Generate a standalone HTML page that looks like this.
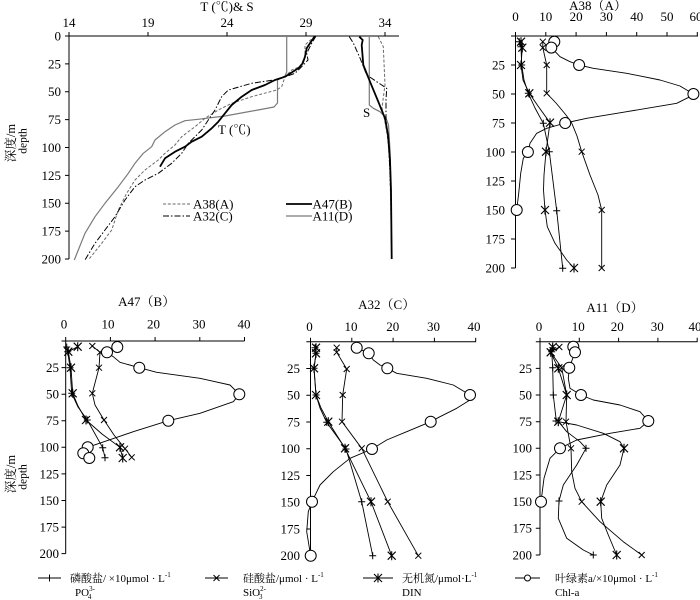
<!DOCTYPE html>
<html><head><meta charset="utf-8"><style>
html,body{margin:0;padding:0;background:#fff;}
svg{display:block;}
text{font-family:"Liberation Serif","Noto Serif CJK SC",serif;fill:#000;}
</style></head><body>
<svg width="700" height="600" viewBox="0 0 700 600" xmlns="http://www.w3.org/2000/svg">
<defs>
<g id="pl"><path d="M-3.5 0H3.5M0 -3.5V3.5" stroke="#000" stroke-width="1" fill="none"/></g>
<g id="xm"><path d="M-3 -3L3 3M-3 3L3 -3" stroke="#000" stroke-width="1" fill="none"/></g>
<g id="as"><path d="M-4 -4L4 4M-4 4L4 -4M0 -4.5V4.5" stroke="#000" stroke-width="1.1" fill="none"/></g>
<g id="ci"><circle r="5.5" fill="#fff" stroke="#000" stroke-width="1"/></g>
</defs>
<rect width="700" height="600" fill="#fff"/>

<!-- ============ TOP-LEFT T & S ============ -->
<g font-size="13">
<text x="227" y="11" text-anchor="middle">T (℃)&amp; S</text>
<g stroke="#000" stroke-width="1" fill="none">
<path d="M69 36H399M69 36V259"/>
<path d="M69 36V32M148 36V32M227 36V32M306 36V32M385 36V32"/>
<path d="M65 36H69M65 63.9H69M65 91.75H69M65 119.6H69M65 147.5H69M65 175.4H69M65 203.25H69M65 231.1H69M65 259H69"/>
</g>
<g text-anchor="middle">
<text x="69" y="27">14</text><text x="148" y="27">19</text><text x="227" y="27">24</text><text x="306" y="27">29</text><text x="385" y="27">34</text>
</g>
<g text-anchor="end">
<text x="61" y="40.5">0</text><text x="61" y="68.4">25</text><text x="61" y="96.2">50</text><text x="61" y="124.1">75</text><text x="61" y="152">100</text><text x="61" y="179.9">125</text><text x="61" y="207.7">150</text><text x="61" y="235.6">175</text><text x="61" y="263.5">200</text>
</g>
<text transform="translate(15,143) rotate(-90)" text-anchor="middle" font-size="12.5">深度/m</text>
<text transform="translate(26.5,141) rotate(-90)" text-anchor="middle" font-size="11.5">depth</text>

<g fill="none" stroke-linejoin="round">
<polyline stroke="#7a7a7a" stroke-width="1.2" points="286.7,36 286.7,72 285,76 277.5,80 277.5,103 274,107 258,110 225,116 198,119.3 185,120.7 175,125 165,131.7 155,140 151.7,146.7 143.3,153.3 135,163.3 128.3,173.3 118.3,186.7 105,203.3 95,216.7 85,233.3 78.3,250 74.3,260"/>
<polyline stroke="#6a6a6a" stroke-width="1" stroke-dasharray="3,1.8" points="315,36 305,45 305,56.7 300,66.7 291.7,70 285,76.7 281.7,86.7 276.7,90 251.7,96.7 231.7,103.3 218.3,110 205,118.3 195,126.7 181.7,136.7 175,145 165,153.3 158.3,160 145,170 135,180 126.7,193.3 118.3,210 111.7,230 101.7,243.3 88.3,260"/>
<polyline stroke="#000" stroke-width="1" stroke-dasharray="6,2,1.5,2" points="316,36 311.7,43.3 306.7,53.3 308,60 301.7,66.7 295,73.3 278.3,79.3 251.7,83.3 228.3,90 221.7,96.7 215,110 208.3,120 201.7,130 195,136.7 188.3,143.3 181.7,153.3 171.7,163.3 158.3,173.3 145,180 135,186.7 125,200 115,216.7 105,230 95,243.3 85,260"/>
<polyline stroke="#000" stroke-width="1.8" points="315,36 310,43.3 306.7,48.3 305,56.7 302.7,63.3 298.3,68.3 285,76.7 275,80 265,85 251.7,90 241.7,96.7 231.7,105 225,113.3 218.3,121.7 211.7,128.3 201.7,136.7 191.7,141.7 185,146.7 175,151.7 165,158.3 160,166.7"/>

<polyline stroke="#7a7a7a" stroke-width="1.2" points="369.3,36 369.3,105 373.3,108.3 380,111.7 386,118 388.5,125 390,150 391,200 391.7,259"/>
<polyline stroke="#6a6a6a" stroke-width="1" stroke-dasharray="3,1.8" points="378.3,36.7 383.3,46.7 385,85 383,100 382,108 385,121.7 388,140 390,170 391.7,259"/>
<polyline stroke="#000" stroke-width="1" stroke-dasharray="6,2,1.5,2" points="349.3,36.7 353.3,43 360,58 366.7,75 376.7,81.7 386.7,88.3 386,100 386,120 389,150 391,200 391.7,259"/>
<polyline stroke="#000" stroke-width="1.8" points="359.3,36.7 362.7,40 361.7,45 363.3,65 370,81.7 378.3,101.7 385,118.3 388,135 390,160 391,190 391.7,259"/>

<line x1="163" y1="204" x2="190" y2="204" stroke="#6a6a6a" stroke-width="1" stroke-dasharray="3,1.8"/>
<line x1="286" y1="204" x2="312" y2="204" stroke="#000" stroke-width="1.8"/>
<line x1="163" y1="216" x2="190" y2="216" stroke="#000" stroke-width="1" stroke-dasharray="6,2,1.5,2"/>
<line x1="286" y1="216" x2="312" y2="216" stroke="#7a7a7a" stroke-width="1.2"/>
</g>
<text x="193" y="208.5">A38(A)</text>
<text x="312.5" y="208.5">A47(B)</text>
<text x="193" y="220.5">A32(C)</text>
<text x="312.5" y="220.5">A11(D)</text>
<text x="218" y="134">T (℃)</text>
<text x="363" y="117">S</text>
</g>

<!-- ============ A38 (A) ============ -->
<g font-size="13">
<text x="598" y="10" text-anchor="middle">A38（A）</text>
<g stroke="#000" stroke-width="1" fill="none">
<path d="M515.5 36H698M515.5 36V268"/>
<path d="M515.5 36V32M545.8 36V32M576.1 36V32M606.4 36V32M636.7 36V32M667 36V32M697.3 36V32"/>
<path d="M511 36H515.5M511 65H515.5M511 94H515.5M511 123H515.5M511 152H515.5M511 181H515.5M511 210H515.5M511 239H515.5M511 268H515.5"/>
</g>
<g text-anchor="middle">
<text x="515.5" y="21">0</text><text x="545.8" y="21">10</text><text x="576.1" y="21">20</text><text x="606.4" y="21">30</text><text x="636.7" y="21">40</text><text x="667" y="21">50</text><text x="696" y="21">60</text>
</g>
<g text-anchor="end">
<text x="505" y="69.5">25</text><text x="505" y="98.5">50</text><text x="505" y="127.5">75</text><text x="505" y="156.5">100</text><text x="505" y="185.5">125</text><text x="505" y="214.5">150</text><text x="505" y="243.5">175</text><text x="505" y="272.5">200</text>
</g>
<g fill="none" stroke="#000" stroke-width="0.9" stroke-linejoin="round">
<polyline points="519.3,41.7 521,46.7 521.7,65 524,80 528.3,93.3 535,108 543.3,123.3 549.3,151.7 556.7,210.7 562.7,268.3"/>
<polyline points="521,41.7 522.3,47.7 521,65 523,80 529.3,93.3 538,106 550,122.7 546,151.7 544,175 543.5,190 545,210 547.3,226.7 555,243.3 566.7,260 574,268"/>
<polyline points="542.8,41.7 542.8,47.7 546.7,65 546.7,93.3 556,103 566,115 571.7,123 577,136 581.7,151.7 590,175 598,195 601.7,210 601.7,268"/>
<polyline points="554.3,41.8 551.3,47.6 560,56.7 570,61.7 579.1,65 593.3,68.3 626.7,73.3 660,80 680,86 693.4,94 690,96.7 676.7,103.3 626.7,111.7 586.7,118.3 565.2,123 546.7,128.3 536.7,133.3 530,143.3 527.9,152 523.3,158.3 520.7,173.3 518.7,193.3 516.7,210"/>
</g>
<use href="#pl" x="519.3" y="41.7"/><use href="#pl" x="521" y="46.7"/><use href="#pl" x="521.7" y="65"/><use href="#pl" x="528.3" y="93.3"/><use href="#pl" x="543.3" y="123.3"/><use href="#pl" x="549.3" y="151.7"/><use href="#pl" x="556.7" y="210.7"/><use href="#pl" x="562.7" y="268.3"/>
<use href="#xm" x="542.8" y="41.7"/><use href="#xm" x="542.8" y="47.7"/><use href="#xm" x="546.7" y="65"/><use href="#xm" x="546.7" y="93.3"/><use href="#xm" x="581.7" y="151.7"/><use href="#xm" x="601.7" y="210"/><use href="#xm" x="601.7" y="268"/>
<use href="#as" x="521" y="41.7"/><use href="#as" x="522.3" y="47.7"/><use href="#as" x="521" y="65"/><use href="#as" x="529.3" y="93.3"/><use href="#as" x="550" y="122.7"/><use href="#as" x="546" y="151.7"/><use href="#as" x="545" y="210"/><use href="#as" x="574" y="268"/>
<use href="#ci" x="554.3" y="41.8"/><use href="#ci" x="551.3" y="47.6"/><use href="#ci" x="579.1" y="65"/><use href="#ci" x="693.4" y="94"/><use href="#ci" x="565.2" y="123"/><use href="#ci" x="527.9" y="152"/><use href="#ci" x="516.7" y="210"/>
</g>

<!-- ============ A47 (B) ============ -->
<g font-size="13">
<text x="146.7" y="306" text-anchor="middle">A47（B）</text>
<g stroke="#000" stroke-width="1" fill="none">
<path d="M65.7 341H244.5M65.7 341V553.6"/>
<path d="M65.7 341V337M110.4 341V337M155.1 341V337M199.8 341V337M244.5 341V337"/>
<path d="M61.5 341H65.7M61.5 367.6H65.7M61.5 394.2H65.7M61.5 420.7H65.7M61.5 447.3H65.7M61.5 473.9H65.7M61.5 500.5H65.7M61.5 527.1H65.7M61.5 553.6H65.7"/>
</g>
<g text-anchor="middle">
<text x="64" y="328.5">0</text><text x="108" y="328.5">10</text><text x="153.5" y="328.5">20</text><text x="199" y="328.5">30</text><text x="244" y="328.5">40</text>
</g>
<g text-anchor="end">
<text x="59" y="372">25</text><text x="59" y="398.6">50</text><text x="59" y="425.1">75</text><text x="59" y="451.7">100</text><text x="59" y="478.3">125</text><text x="59" y="504.9">150</text><text x="59" y="531.5">175</text><text x="59" y="558">200</text>
</g>
<text transform="translate(15,474) rotate(-90)" text-anchor="middle" font-size="12.5">深度/m</text>
<text transform="translate(26.5,477) rotate(-90)" text-anchor="middle" font-size="11.5">depth</text>
<g fill="none" stroke="#000" stroke-width="0.9" stroke-linejoin="round">
<polyline points="66.7,347 67.7,351.7 70,367.7 71.7,393.3 78,407 87.3,420 102.7,447.7 105,457.7"/>
<polyline points="77.7,346.7 68.3,351.7 71,367.7 72.7,393.3 78,406 86,420 102,434 120,447.3 122.7,458"/>
<polyline points="92.3,346 100,352.3 99,367.7 92.3,393.3 95,405 104,420 114,435 125,448.7 131.7,457.3"/>
<polyline points="117.3,347 107,352.3 113.3,356.7 120,362.3 139.3,367.7 156.7,372.3 200,378.3 230,385 239.3,394.3 233.3,401.7 200,413.3 168.3,420.7 133.3,431.7 87.7,447.3 83.3,453.3 89.3,458"/>
</g>
<use href="#pl" x="66.7" y="347"/><use href="#pl" x="67.7" y="351.7"/><use href="#pl" x="70" y="367.7"/><use href="#pl" x="71.7" y="393.3"/><use href="#pl" x="87.3" y="420"/><use href="#pl" x="102.7" y="447.7"/><use href="#pl" x="105" y="457.7"/>
<use href="#xm" x="92.3" y="346"/><use href="#xm" x="100" y="352.3"/><use href="#xm" x="99" y="367.7"/><use href="#xm" x="92.3" y="393.3"/><use href="#xm" x="104" y="420"/><use href="#xm" x="125" y="448.7"/><use href="#xm" x="131.7" y="457.3"/>
<use href="#as" x="77.7" y="346.7"/><use href="#as" x="68.3" y="351.7"/><use href="#as" x="71" y="367.7"/><use href="#as" x="72.7" y="393.3"/><use href="#as" x="86" y="420"/><use href="#as" x="120" y="447.3"/><use href="#as" x="122.7" y="458"/>
<use href="#ci" x="117.3" y="347"/><use href="#ci" x="107" y="352.3"/><use href="#ci" x="139.3" y="367.7"/><use href="#ci" x="239.3" y="394.3"/><use href="#ci" x="168.3" y="420.7"/><use href="#ci" x="87.7" y="447.3"/><use href="#ci" x="83.3" y="453.3"/><use href="#ci" x="89.3" y="458"/>
</g>

<!-- ============ A32 (C) ============ -->
<g font-size="13">
<text x="386.7" y="309" text-anchor="middle">A32（C）</text>
<g stroke="#000" stroke-width="1" fill="none">
<path d="M310.5 341.7H476M310.5 341.7V555.7"/>
<path d="M310.5 341.7V337.7M351.8 341.7V337.7M393.1 341.7V337.7M434.4 341.7V337.7M475.7 341.7V337.7"/>
<path d="M306.3 341.7H310.5M306.3 368.45H310.5M306.3 395.2H310.5M306.3 421.95H310.5M306.3 448.7H310.5M306.3 475.45H310.5M306.3 502.2H310.5M306.3 528.95H310.5M306.3 555.7H310.5"/>
</g>
<g text-anchor="middle">
<text x="309.5" y="331">0</text><text x="351" y="331">10</text><text x="392.7" y="331">20</text><text x="433.5" y="331">30</text><text x="474" y="331">40</text>
</g>
<g text-anchor="end">
<text x="300" y="372.9">25</text><text x="300" y="399.7">50</text><text x="300" y="426.4">75</text><text x="300" y="453.2">100</text><text x="300" y="479.9">125</text><text x="300" y="506.7">150</text><text x="300" y="533.4">175</text><text x="300" y="560.2">200</text>
</g>
<g fill="none" stroke="#000" stroke-width="0.9" stroke-linejoin="round">
<polyline points="315,347.7 316,353.3 314,368.3 316,395 320,408 326.7,422.3 346,449 361.7,501.7 372.7,555.7"/>
<polyline points="316,347.7 316,353.3 314,368.3 316,395 321,408 328.3,421.7 345,448.3 371,501.7 391.7,555.7"/>
<polyline points="336.7,347.7 336.7,352.3 346.7,369 342.7,395 342,421.7 361.7,448.3 387.7,501.7 418.3,555.7"/>
<polyline points="356.7,347.7 368.7,353.3 373.3,360 380,365 387.3,368.3 396.7,373.3 426.7,378.3 453.3,385 470,395 470,400 456.7,408.3 440,416.7 430.7,421.7 406.7,431.7 386.7,440 372,449 350,458.3 333.3,471.7 320,485 312,501.7 308.3,511.7 306.7,531.7 310,551.7 310.7,555.7"/>
</g>
<use href="#pl" x="315" y="347.7"/><use href="#pl" x="316" y="353.3"/><use href="#pl" x="314" y="368.3"/><use href="#pl" x="316" y="395"/><use href="#pl" x="326.7" y="422.3"/><use href="#pl" x="346" y="449"/><use href="#pl" x="361.7" y="501.7"/><use href="#pl" x="372.7" y="555.7"/>
<use href="#xm" x="336.7" y="347.7"/><use href="#xm" x="336.7" y="352.3"/><use href="#xm" x="346.7" y="369"/><use href="#xm" x="342.7" y="395"/><use href="#xm" x="342" y="421.7"/><use href="#xm" x="361.7" y="448.3"/><use href="#xm" x="387.7" y="501.7"/><use href="#xm" x="418.3" y="555.7"/>
<use href="#as" x="316" y="347.7"/><use href="#as" x="316" y="353.3"/><use href="#as" x="314" y="368.3"/><use href="#as" x="316" y="395"/><use href="#as" x="328.3" y="421.7"/><use href="#as" x="345" y="448.3"/><use href="#as" x="371" y="501.7"/><use href="#as" x="391.7" y="555.7"/>
<use href="#ci" x="356.7" y="347.7"/><use href="#ci" x="368.7" y="353.3"/><use href="#ci" x="387.3" y="368.3"/><use href="#ci" x="470" y="395"/><use href="#ci" x="430.7" y="421.7"/><use href="#ci" x="372" y="449"/><use href="#ci" x="312" y="501.7"/><use href="#ci" x="310.7" y="555.7"/>
</g>

<!-- ============ A11 (D) ============ -->
<g font-size="13">
<text x="615" y="312" text-anchor="middle">A11（D）</text>
<g stroke="#000" stroke-width="1" fill="none">
<path d="M540 341.7H697.5M540 341.7V555"/>
<path d="M540 341.7V337.7M579.3 341.7V337.7M618.6 341.7V337.7M657.9 341.7V337.7M697.2 341.7V337.7"/>
<path d="M535.8 341.7H540M535.8 368.4H540M535.8 395H540M535.8 421.7H540M535.8 448.3H540M535.8 475H540M535.8 501.7H540M535.8 528.3H540M535.8 555H540"/>
</g>
<g text-anchor="middle">
<text x="539" y="331">0</text><text x="578.3" y="331">10</text><text x="617.3" y="331">20</text><text x="657.3" y="331">30</text><text x="695" y="331">40</text>
</g>
<g text-anchor="end">
<text x="532" y="372.8">25</text><text x="532" y="399.4">50</text><text x="532" y="426.1">75</text><text x="532" y="452.7">100</text><text x="532" y="479.4">125</text><text x="532" y="506.1">150</text><text x="532" y="532.7">175</text><text x="532" y="559.4">200</text>
</g>
<g fill="none" stroke="#000" stroke-width="0.9" stroke-linejoin="round">
<polyline points="552.7,347.7 551.7,351.7 552.7,367.7 553.3,395 556,418.3 566.7,431.7 580,441.7 586,448.3 576.7,465 563.3,485 559,501 558.3,518.3 566.7,538.3 583.3,550 593.3,555"/>
<polyline points="552.7,347 550.7,352.3 558.3,368.3 566.7,395 558.3,421.7 576.7,425 603.3,433.3 620,441.7 624,448.3 620,465 606.7,485 600.7,501.7 601.7,518.3 608.3,535 616.7,555"/>
<polyline points="559.3,347 550.7,352.3 561.7,367.7 566.7,395 566,421.7 571,448.3 571.7,471.7 575,488.3 581.7,501.7 600,521.7 623.3,541.7 641.7,555"/>
<polyline points="573.3,346.7 575,352.3 569.3,367.7 568.3,378.3 570,388.3 581,395 593.3,400 620,405 640,411.7 648.3,421 640,428.3 610,433.3 576.7,440 560,448.3 550,458.3 544,478.3 541,501.7"/>
</g>
<use href="#pl" x="552.7" y="347.7"/><use href="#pl" x="551.7" y="351.7"/><use href="#pl" x="552.7" y="367.7"/><use href="#pl" x="553.3" y="395"/><use href="#pl" x="556" y="421"/><use href="#pl" x="586" y="448.3"/><use href="#pl" x="559" y="501"/><use href="#pl" x="593.3" y="555"/>
<use href="#xm" x="559.3" y="347"/><use href="#xm" x="550.7" y="352.3"/><use href="#xm" x="561.7" y="367.7"/><use href="#xm" x="566.7" y="395"/><use href="#xm" x="566" y="421.7"/><use href="#xm" x="571" y="448.3"/><use href="#xm" x="581.7" y="501.7"/><use href="#xm" x="641.7" y="555"/>
<use href="#as" x="552.7" y="347"/><use href="#as" x="550.7" y="352.3"/><use href="#as" x="558.3" y="368.3"/><use href="#as" x="566.7" y="395"/><use href="#as" x="558.3" y="421.7"/><use href="#as" x="624" y="448.3"/><use href="#as" x="600.7" y="501.7"/><use href="#as" x="616.7" y="555"/>
<use href="#ci" x="573.3" y="346.7"/><use href="#ci" x="575" y="352.3"/><use href="#ci" x="569.3" y="367.7"/><use href="#ci" x="581" y="395"/><use href="#ci" x="648.3" y="421"/><use href="#ci" x="560" y="448.3"/><use href="#ci" x="541" y="501.7"/>
</g>

<!-- ============ Bottom legend ============ -->
<g font-size="11">
<line x1="38" y1="578" x2="61" y2="578" stroke="#000" stroke-width="1"/><use href="#pl" x="49.5" y="578"/>
<text x="70" y="582">磷酸盐/ ×10μmol · L<tspan font-size="7" dy="-5">-1</tspan></text>
<text x="75" y="596">PO<tspan font-size="7" dy="-5">3-</tspan><tspan font-size="7" dx="-7" dy="8">4</tspan></text>

<line x1="205" y1="578" x2="228" y2="578" stroke="#000" stroke-width="1"/><use href="#xm" x="216.5" y="578"/>
<text x="243" y="582">硅酸盐/μmol · L<tspan font-size="7" dy="-5">-1</tspan></text>
<text x="243" y="596">SiO<tspan font-size="7" dy="-5">2-</tspan><tspan font-size="7" dx="-7" dy="8">3</tspan></text>

<line x1="363" y1="578" x2="393" y2="578" stroke="#000" stroke-width="1"/><use href="#as" x="378" y="578"/>
<text x="402" y="582">无机氮/μmol·L<tspan font-size="7" dy="-5">-1</tspan></text>
<text x="402" y="596">DIN</text>

<line x1="515" y1="578" x2="540" y2="578" stroke="#000" stroke-width="1"/><circle cx="527.5" cy="578" r="3" fill="#fff" stroke="#000" stroke-width="1"/>
<text x="555" y="582">叶绿素a/×10μmol · L<tspan font-size="7" dy="-5">-1</tspan></text>
<text x="555" y="596">Chl-a</text>
</g>
</svg>
</body></html>
